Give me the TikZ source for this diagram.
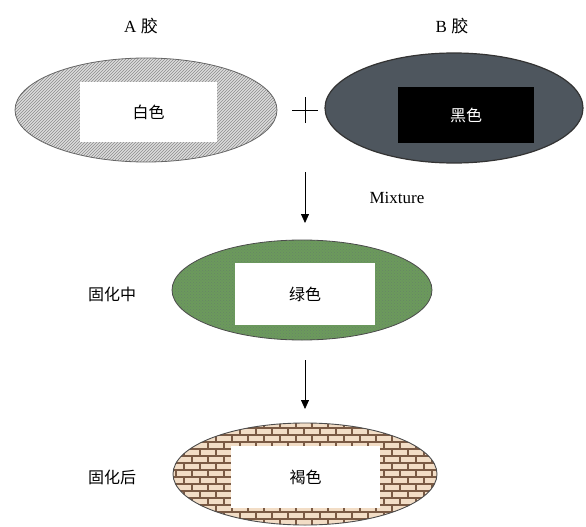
\documentclass[tikz,border=0pt]{standalone}
\usepackage{fontspec}
\setmainfont{Liberation Serif}
\newfontfamily\cjk{Noto Sans CJK SC}
\usetikzlibrary{patterns,arrows.meta}
\definecolor{agray}{HTML}{DCDCDC}
\definecolor{bgray}{HTML}{4E565E}
\definecolor{gfill}{HTML}{6C9A5C}
\definecolor{brfill}{HTML}{F2DDC6}
\definecolor{mortar}{HTML}{7A5A44}
\tikzset{
  x={(1pt,0)}, y={(0,-1pt)},
  lab/.style={font=\fontsize{17}{20}\selectfont},
  cjklab/.style={font=\fontsize{16}{19}\selectfont\cjk},
  inbox/.style={fill=white, inner sep=0pt, font=\fontsize{16}{19}\selectfont\cjk},
  arr/.style={-{Triangle[length=9pt,width=8pt]}, line width=0.8pt},
}
\begin{document}
\begin{tikzpicture}
\useasboundingbox[fill=white] (0,0) rectangle (586,527);
% ellipse A
\path[preaction={fill=agray}, pattern=north east lines, pattern color=gray!90] (146,110) ellipse [x radius=131pt, y radius=52pt];
\draw[gray!80!black, line width=0.8pt] (146,110) ellipse [x radius=131pt, y radius=52pt];
\node[inbox, minimum width=137pt, minimum height=60pt] (wa) at (148.5,112) {白色};
\node[lab] (la) at (141,26) {A {\cjk 胶}};
% plus
\coordinate (pc) at (305,110);
\draw[line width=1pt] ([xshift=-13pt]pc) -- ([xshift=13pt]pc) ([yshift=-13pt]pc) -- ([yshift=13pt]pc);
% ellipse B
\draw[fill=bgray, draw=black!80, line width=1.2pt] (454,108) ellipse [x radius=129pt, y radius=55pt];
\node[fill=black, text=white, inner sep=0pt, minimum width=136pt, minimum height=56pt, font=\fontsize{16}{19}\selectfont\cjk] (wb) at (466,115) {黑色};
\node[lab] (lb) at (452,26) {B {\cjk 胶}};
% arrow 1
\coordinate (a1s) at (305,172);
\coordinate (a1e) at (305,223);
\draw[arr] (a1s) -- (a1e);
\node[lab] (mix) at (397,198) {Mixture};
% ellipse green
\path[preaction={fill=gfill}, pattern=crosshatch dots, pattern color=green!20!black!60] (302,290) ellipse [x radius=130pt, y radius=50pt];
\draw[black!70, line width=0.8pt] (302,290) ellipse [x radius=130pt, y radius=50pt];
\node[inbox, minimum width=140pt, minimum height=62pt] (wg) at (305,294) {绿色};
\node[cjklab] (lg) at (112,294) {固化中};
% arrow 2
\coordinate (a2s) at (305,360);
\coordinate (a2e) at (305,409);
\draw[arr] (a2s) -- (a2e);
% ellipse brown with bricks
\begin{scope}
  \clip (305,474) ellipse [x radius=132pt, y radius=51pt];
  \fill[brfill] (170,420) rectangle (440,527);
  \foreach \r in {0,...,15} {
    \pgfmathsetmacro{\yy}{421+7*\r}
    \draw[mortar, line width=1.1pt] (170,\yy) -- (440,\yy);
    \pgfmathsetmacro{\off}{mod(\r,2)*8}
    \foreach \c in {0,...,17} {
      \pgfmathsetmacro{\xx}{168+\off+16*\c}
      \draw[mortar, line width=1.1pt] (\xx,\yy) -- (\xx,\yy+7);
    }
  }
\end{scope}
\draw[black!70, line width=0.9pt] (305,474) ellipse [x radius=132pt, y radius=51pt];
\node[inbox, minimum width=149pt, minimum height=62pt] (wr) at (305.5,477) {褐色};
\node[cjklab] (lr) at (112,477) {固化后};
\end{tikzpicture}
\end{document}
